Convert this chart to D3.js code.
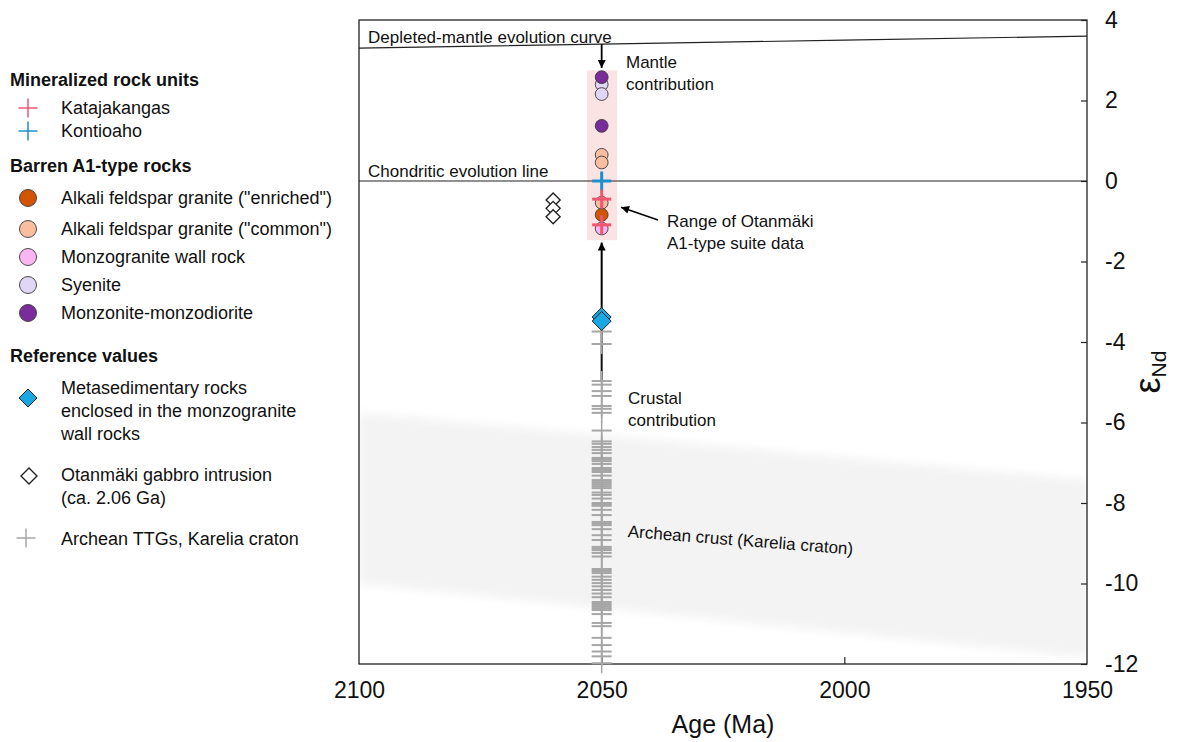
<!DOCTYPE html>
<html>
<head>
<meta charset="utf-8">
<script src="https://cdn.jsdelivr.net/npm/d3@7"></script>
<style>
  body { margin: 0; background: #fff; }
  svg { display: block; font-family: "Liberation Sans", Arial, sans-serif; }
</style>
</head>
<body>
<svg id="chart" width="1195" height="742"></svg>
<script>
// ---- data (age in Ma, epsilon Nd) ----
const sampleAge = 2050;
const gabbroAge = 2060;

const katajakangas   = [-0.45, -1.09];
const kontioaho      = [0.0];
const afgEnriched    = [-0.84];
const afgCommon      = [0.65, 0.46, -0.54];
const monzogranite   = [-1.18];
const syenite        = [2.40, 2.16];
const monzonite      = [2.58, 1.37];
const metasediment   = [-3.38, -3.48];
const gabbro         = [-0.47, -0.68, -0.89];
const archeanTTG     = [-3.74, -4.05, -4.97, -5.06, -5.22, -5.34, -5.59, -5.66, -5.76, -6.20,
                        -6.47, -6.53, -6.61, -6.68, -6.76, -6.88, -6.92, -6.96, -7.03, -7.13,
                        -7.18, -7.23, -7.32, -7.43, -7.48, -7.53, -7.58, -7.63, -7.74, -7.80,
                        -7.89, -8.00, -8.04, -8.07, -8.17, -8.30, -8.47, -8.51, -8.55, -8.65,
                        -8.80, -8.92, -9.09, -9.13, -9.17, -9.24, -9.33, -9.64, -9.69, -9.74,
                        -9.83, -9.91, -9.99, -10.07, -10.16, -10.25, -10.34, -10.46, -10.51, -10.56,
                        -10.61, -10.66, -10.76, -10.98, -11.06, -11.35, -11.53, -11.69, -11.81, -11.98];

// depleted-mantle curve and chondritic reference
const dmAges   = [2100, 2050, 2000, 1950];
const dmValues = [3.30, 3.40, 3.50, 3.60];
const churValue = 0;

// Archean crust field (age, upper, lower)
const crustAges  = [2100, 1950];
const crustUpper = [-5.76, -7.43];
const crustLower = [-10.0, -11.83];

// Otanmäki A1-type range box
const rangeAges   = [2053, 2046.8];
const rangeValues = [2.75, -1.47];

const xTicks = [2100, 2050, 2000, 1950];
const yTicks = [4, 2, 0, -2, -4, -6, -8, -10, -12];

// ---- colours ----
const C = {
  kata: "#f0566f", konti: "#1b8fd0",
  enriched: "#d25400", common: "#f9bea0", monzog: "#fab6f2",
  syen: "#e0d6f6", monzon: "#7a2b9c", meta: "#1aa8e2",
  ttg: "#a6a6a6", range: "#fce3e3", crust: "#f3f3f3"
};

const svg = d3.select("#chart");
const x = d3.scaleLinear().domain([2100, 1950]).range([359, 1087]);
const y = d3.scaleLinear().domain([4, -12]).range([20, 664]);
const [x0, x1] = x.range();
const [y0, y1] = y.range();

const defs = svg.append("defs");
defs.append("clipPath").attr("id", "plotClip")
  .append("rect").attr("x", x0).attr("y", y0).attr("width", x1 - x0).attr("height", y1 - y0);
defs.append("filter").attr("id", "soft").attr("x", "-10%").attr("y", "-20%").attr("width", "120%").attr("height", "140%")
  .append("feGaussianBlur").attr("stdDeviation", 5);
defs.append("marker").attr("id", "head")
  .attr("viewBox", "0 0 10 10").attr("refX", 10).attr("refY", 5)
  .attr("markerWidth", 9).attr("markerHeight", 8).attr("markerUnits", "userSpaceOnUse")
  .attr("orient", "auto")
  .append("path").attr("d", "M0,0 L10,5 L0,10 Z").attr("fill", "#000");

// Archean crust field
const crustPoly = crustAges.map((a, i) => [x(a), y(crustUpper[i])])
  .concat(crustAges.map((a, i) => [x(a), y(crustLower[i])]).reverse());
svg.append("g").attr("clip-path", "url(#plotClip)")
  .append("path")
  .attr("d", "M" + crustPoly.join("L") + "Z")
  .attr("fill", C.crust).attr("filter", "url(#soft)");

// range box of A1-type suite
svg.append("rect")
  .attr("x", x(rangeAges[0])).attr("y", y(rangeValues[0]))
  .attr("width", x(rangeAges[1]) - x(rangeAges[0]))
  .attr("height", y(rangeValues[1]) - y(rangeValues[0]))
  .attr("fill", C.range);

// reference lines
svg.append("line").attr("x1", x0).attr("x2", x1).attr("y1", y(churValue)).attr("y2", y(churValue))
  .attr("stroke", "#222").attr("stroke-width", 1.2);
svg.append("path")
  .datum(dmAges.map((a, i) => [a, dmValues[i]]))
  .attr("d", d3.line().x(d => x(d[0])).y(d => y(d[1])))
  .attr("fill", "none").attr("stroke", "#222").attr("stroke-width", 1.2);

// frame
svg.append("rect").attr("x", x0).attr("y", y0).attr("width", x1 - x0).attr("height", y1 - y0)
  .attr("fill", "none").attr("stroke", "#222").attr("stroke-width", 1.3);

// axes (ticks inside the frame)
const xAxis = svg.append("g").attr("transform", `translate(0,${y1})`)
  .call(d3.axisBottom(x).tickValues(xTicks).tickSize(-7).tickPadding(18).tickFormat(d => String(d)));
const yAxis = svg.append("g").attr("transform", `translate(${x1},0)`)
  .call(d3.axisRight(y).tickValues(yTicks).tickSize(-6).tickPadding(18).tickFormat(d => String(d)));
[xAxis, yAxis].forEach(g => {
  g.select(".domain").remove();
  g.selectAll(".tick line").attr("stroke", "#222").attr("stroke-width", 1.2);
  g.selectAll(".tick text").attr("font-size", 23).attr("fill", "#111")
    .attr("font-family", "'Liberation Sans', Arial, sans-serif");
});
xAxis.selectAll(".tick").filter(d => d === 2100 || d === 1950).select("line").remove();

svg.append("text").attr("x", (x0 + x1) / 2).attr("y", 733).attr("text-anchor", "middle")
  .attr("font-size", 25).attr("fill", "#111").text("Age (Ma)");
const eLab = svg.append("text").attr("transform", "translate(1160,372) rotate(-90)")
  .attr("text-anchor", "middle").attr("fill", "#111");
eLab.append("tspan").attr("font-size", 36).text("ε");
eLab.append("tspan").attr("font-size", 21).attr("dy", 6).text("Nd");

// crustal contribution stem (under the TTG markers)
svg.append("line").attr("x1", x(sampleAge)).attr("x2", x(sampleAge))
  .attr("y1", y(-3.4)).attr("y2", y(-5.0)).attr("stroke", "#111").attr("stroke-width", 2);

// Archean TTG markers
const ttgG = svg.append("g").attr("stroke", C.ttg);
archeanTTG.forEach(v => {
  const cx = x(sampleAge), cy = y(v);
  ttgG.append("line").attr("x1", cx - 10).attr("x2", cx + 10).attr("y1", cy).attr("y2", cy).attr("stroke-width", 2);
  ttgG.append("line").attr("x1", cx).attr("x2", cx).attr("y1", cy - 10).attr("y2", cy + 10).attr("stroke-width", 1.5);
});

// arrows
function arrow(a1, v1, a2, v2, w) {
  svg.append("line").attr("x1", x(a1)).attr("y1", y(v1)).attr("x2", x(a2)).attr("y2", y(v2))
    .attr("stroke", "#000").attr("stroke-width", w).attr("marker-end", "url(#head)");
}
arrow(sampleAge, 3.40, sampleAge, 2.81, 1.8);
arrow(sampleAge, -3.2, sampleAge, -1.53, 2);
arrow(2038.4, -0.97, 2046.0, -0.65, 1.6);

// symbol helpers
const diamond = (g, cx, cy, r, fill, sw) => g.append("path")
  .attr("d", `M${cx},${cy - r}L${cx + r},${cy}L${cx},${cy + r}L${cx - r},${cy}Z`)
  .attr("fill", fill).attr("stroke", "#222").attr("stroke-width", sw);
const circle = (g, cx, cy, r, fill) => g.append("circle")
  .attr("cx", cx).attr("cy", cy).attr("r", r).attr("fill", fill).attr("stroke", "#3a3a3a").attr("stroke-width", 0.9);
const cross = (g, cx, cy, r, color, sw) => {
  g.append("line").attr("x1", cx - r).attr("x2", cx + r).attr("y1", cy).attr("y2", cy).attr("stroke", color).attr("stroke-width", sw);
  g.append("line").attr("x1", cx).attr("x2", cx).attr("y1", cy - r).attr("y2", cy + r).attr("stroke", color).attr("stroke-width", sw);
};

const marks = svg.append("g");
metasediment.forEach(v => diamond(marks, x(sampleAge), y(v), 9.5, C.meta, 1));
gabbro.forEach(v => diamond(marks, x(gabbroAge), y(v), 7, "#fff", 1.4));
const R = 6.4;
syenite.forEach(v => circle(marks, x(sampleAge), y(v), R, C.syen));
afgCommon.forEach(v => circle(marks, x(sampleAge), y(v), R, C.common));
monzogranite.forEach(v => circle(marks, x(sampleAge), y(v), R, C.monzog));
afgEnriched.forEach(v => circle(marks, x(sampleAge), y(v), R, C.enriched));
monzonite.forEach(v => circle(marks, x(sampleAge), y(v), R, C.monzon));
kontioaho.forEach(v => cross(marks, x(sampleAge), y(v), 9.5, C.konti, 3));
katajakangas.forEach(v => cross(marks, x(sampleAge), y(v), 9.5, C.kata, 3));

// annotations
const note = (tx, ty, lines, opts = {}) => {
  const t = svg.append("text").attr("font-size", 17).attr("fill", "#111")
    .attr("transform", `translate(${tx},${ty})` + (opts.rot ? ` rotate(${opts.rot})` : ""));
  lines.forEach((s, i) => t.append("tspan").attr("x", 0).attr("y", i * 22).attr("dy", "0.35em").text(s));
};
note(368, 37, ["Depleted-mantle evolution curve"]);
note(368, 171, ["Chondritic evolution line"]);
note(626, 62, ["Mantle", "contribution"]);
note(667, 221, ["Range of Otanmäki", "A1-type suite data"]);
note(628, 398, ["Crustal", "contribution"]);
note(628, 531, ["Archean crust (Karelia craton)"], { rot: 4.5 });

// legend
const lg = svg.append("g").attr("font-size", 18).attr("fill", "#111");
const lx = 28, tx = 61;
const head = (yy, s) => lg.append("text").attr("x", 10).attr("y", yy).attr("dy", "0.35em")
  .attr("font-weight", "bold").text(s);
const label = (yy, lines) => {
  const t = lg.append("text");
  lines.forEach((s, i) => t.append("tspan").attr("x", tx).attr("y", yy + i * 23).attr("dy", "0.35em").text(s));
};
head(80, "Mineralized rock units");
cross(lg, lx, 108, 9.5, C.kata, 1.5); label(108, ["Katajakangas"]);
cross(lg, lx, 131, 9.5, C.konti, 1.5); label(131, ["Kontioaho"]);
head(166, "Barren A1-type rocks");
const legCircles = [
  [198, C.enriched, "Alkali feldspar granite (\"enriched\")"],
  [229, C.common, "Alkali feldspar granite (\"common\")"],
  [257, C.monzog, "Monzogranite wall rock"],
  [285, C.syen, "Syenite"],
  [313, C.monzon, "Monzonite-monzodiorite"]
];
legCircles.forEach(([yy, col, s]) => { circle(lg, lx, yy, 8.5, col); label(yy, [s]); });
head(356, "Reference values");
diamond(lg, lx, 398, 9, C.meta, 1);
label(388, ["Metasedimentary rocks", "enclosed in the monzogranite", "wall rocks"]);
diamond(lg, 29, 476, 8, "#fff", 1.4);
label(475, ["Otanmäki gabbro intrusion", "(ca. 2.06 Ga)"]);
cross(lg, 26, 538, 9.5, C.ttg, 1.5); label(539, ["Archean TTGs, Karelia craton"]);
</script>
</body>
</html>
